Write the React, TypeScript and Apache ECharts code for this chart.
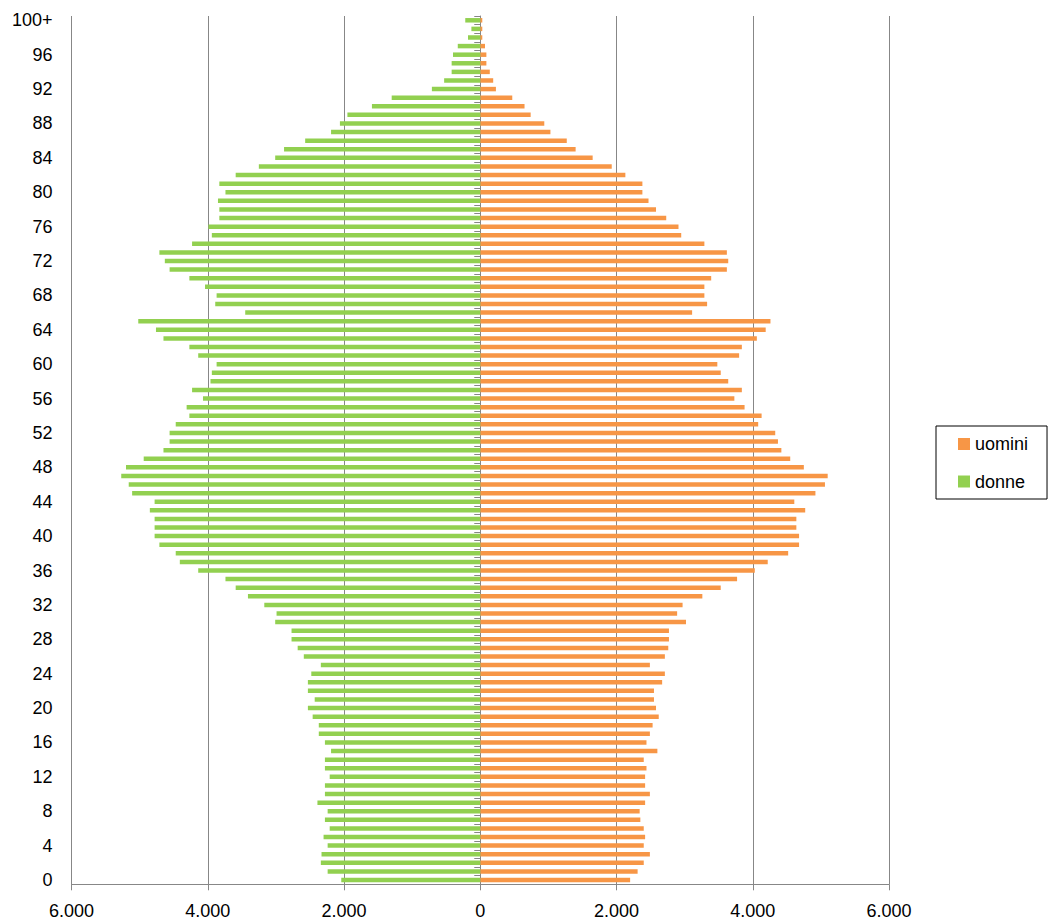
import React, { useEffect, useRef } from "react";
import * as echarts from "echarts";

// Age categories, bottom (0) to top (100+)
const ages: string[] = Array.from({ length: 100 }, (_, i) => String(i)).concat(["100+"]);

// Men per age (0 .. 100+)
const uomini: number[] = [
  2200, 2310, 2400, 2490, 2400, 2420, 2400, 2350, 2340, 2420,
  2490, 2420, 2420, 2440, 2400, 2600, 2440, 2490, 2530, 2620,
  2580, 2550, 2550, 2670, 2710, 2490, 2710, 2760, 2770, 2770,
  3020, 2890, 2970, 3260, 3530, 3770, 4030, 4220, 4520, 4680,
  4680, 4640, 4640, 4770, 4610, 4920, 5060, 5100, 4750, 4550,
  4420, 4370, 4330, 4080, 4130, 3880, 3730, 3840, 3640, 3530,
  3480, 3800, 3840, 4060, 4190, 4260, 3110, 3330, 3290, 3290,
  3390, 3620, 3640, 3620, 3290, 2950, 2910, 2730, 2580, 2470,
  2380, 2380, 2130, 1930, 1650, 1400, 1270, 1030, 940, 740,
  650, 470, 230, 190, 140, 90, 90, 70, 30, 30,
  30,
];

// Women per age (0 .. 100+)
const donne: number[] = [
  2040, 2240, 2340, 2330, 2240, 2300, 2210, 2280, 2240, 2390,
  2280, 2280, 2210, 2280, 2280, 2190, 2280, 2370, 2370, 2460,
  2530, 2430, 2530, 2530, 2480, 2340, 2590, 2680, 2770, 2770,
  3010, 2990, 3170, 3410, 3590, 3740, 4140, 4410, 4470, 4710,
  4780, 4780, 4780, 4850, 4780, 5110, 5160, 5270, 5200, 4940,
  4650, 4560, 4560, 4470, 4270, 4310, 4070, 4230, 3960, 3940,
  3870, 4140, 4270, 4650, 4760, 5020, 3450, 3890, 3870, 4040,
  4270, 4560, 4630, 4710, 4230, 3940, 3990, 3830, 3830, 3850,
  3740, 3830, 3590, 3250, 3010, 2880, 2570, 2190, 2060, 1950,
  1590, 1300, 710, 530, 420, 420, 400, 330, 180, 130,
  220,
];

const seriesNames = ["uomini", "donne"];
const FONT = "'Liberation Sans', Arial, sans-serif";
const GRID_COLOR = "#878787";

function fmtThousands(v: number): string {
  const a = Math.abs(v);
  if (a < 1000) return String(a);
  const th = Math.floor(a / 1000);
  const rest = String(a % 1000).padStart(3, "0");
  return `${th}.${rest}`;
}

export default function App() {
  const ref = useRef<HTMLDivElement>(null);

  useEffect(() => {
    if (!ref.current) return;
    const chart = echarts.init(ref.current, null, { renderer: "svg" });
    chart.setOption({
      animation: false,
      backgroundColor: "#ffffff",
      textStyle: { fontFamily: FONT },
      grid: { left: 71.5, right: 160, top: 16, bottom: 38.7, containLabel: false },
      legend: {
        orient: "vertical",
        left: 936,
        top: 426,
        padding: [9, 19, 8.5, 22],
        itemWidth: 12,
        itemHeight: 12,
        itemGap: 19.5,
        icon: "rect",
        borderColor: "#000000",
        borderWidth: 1,
        textStyle: { fontSize: 18, color: "#000000", fontFamily: FONT },
        data: seriesNames,
      },
      xAxis: {
        type: "value",
        min: -6000,
        max: 6000,
        interval: 2000,
        axisLine: { show: true, onZero: false, lineStyle: { color: GRID_COLOR, width: 1 } },
        axisTick: { show: true, length: 6, lineStyle: { color: GRID_COLOR } },
        splitLine: { show: true, lineStyle: { color: GRID_COLOR, width: 1 } },
        axisLabel: {
          formatter: (v: number) => fmtThousands(v),
          color: "#000000",
          fontSize: 18,
          fontFamily: FONT,
          margin: 18,
        },
      },
      yAxis: [
        {
          type: "category",
          data: ages,
          position: "left",
          axisLine: { show: false, onZero: false },
          axisTick: { show: false },
          splitLine: { show: false },
          axisLabel: {
            interval: 3,
            margin: 19,
            color: "#000000",
            fontSize: 18,
            fontFamily: FONT,
          },
        },
        {
          type: "category",
          data: ages,
          position: "left",
          axisLine: { show: true, onZero: true, lineStyle: { color: GRID_COLOR, width: 1 } },
          axisTick: { show: true, interval: 0, length: 6, alignWithLabel: false, lineStyle: { color: GRID_COLOR } },
          axisLabel: { show: false },
          splitLine: { show: false },
        },
      ],
      series: [
        {
          name: "uomini",
          type: "bar",
          stack: "total",
          yAxisIndex: 0,
          barWidth: 4.5,
          itemStyle: { color: "#F79646" },
          data: uomini,
        },
        {
          name: "donne",
          type: "bar",
          stack: "total",
          yAxisIndex: 0,
          barWidth: 4.5,
          itemStyle: { color: "#92D050" },
          data: donne.map((v) => -v),
        },
      ],
    });
    return () => chart.dispose();
  }, []);

  return (
    <div
      ref={ref}
      style={{ position: "fixed", left: 0, top: 0, width: 1049, height: 923 }}
    />
  );
}
